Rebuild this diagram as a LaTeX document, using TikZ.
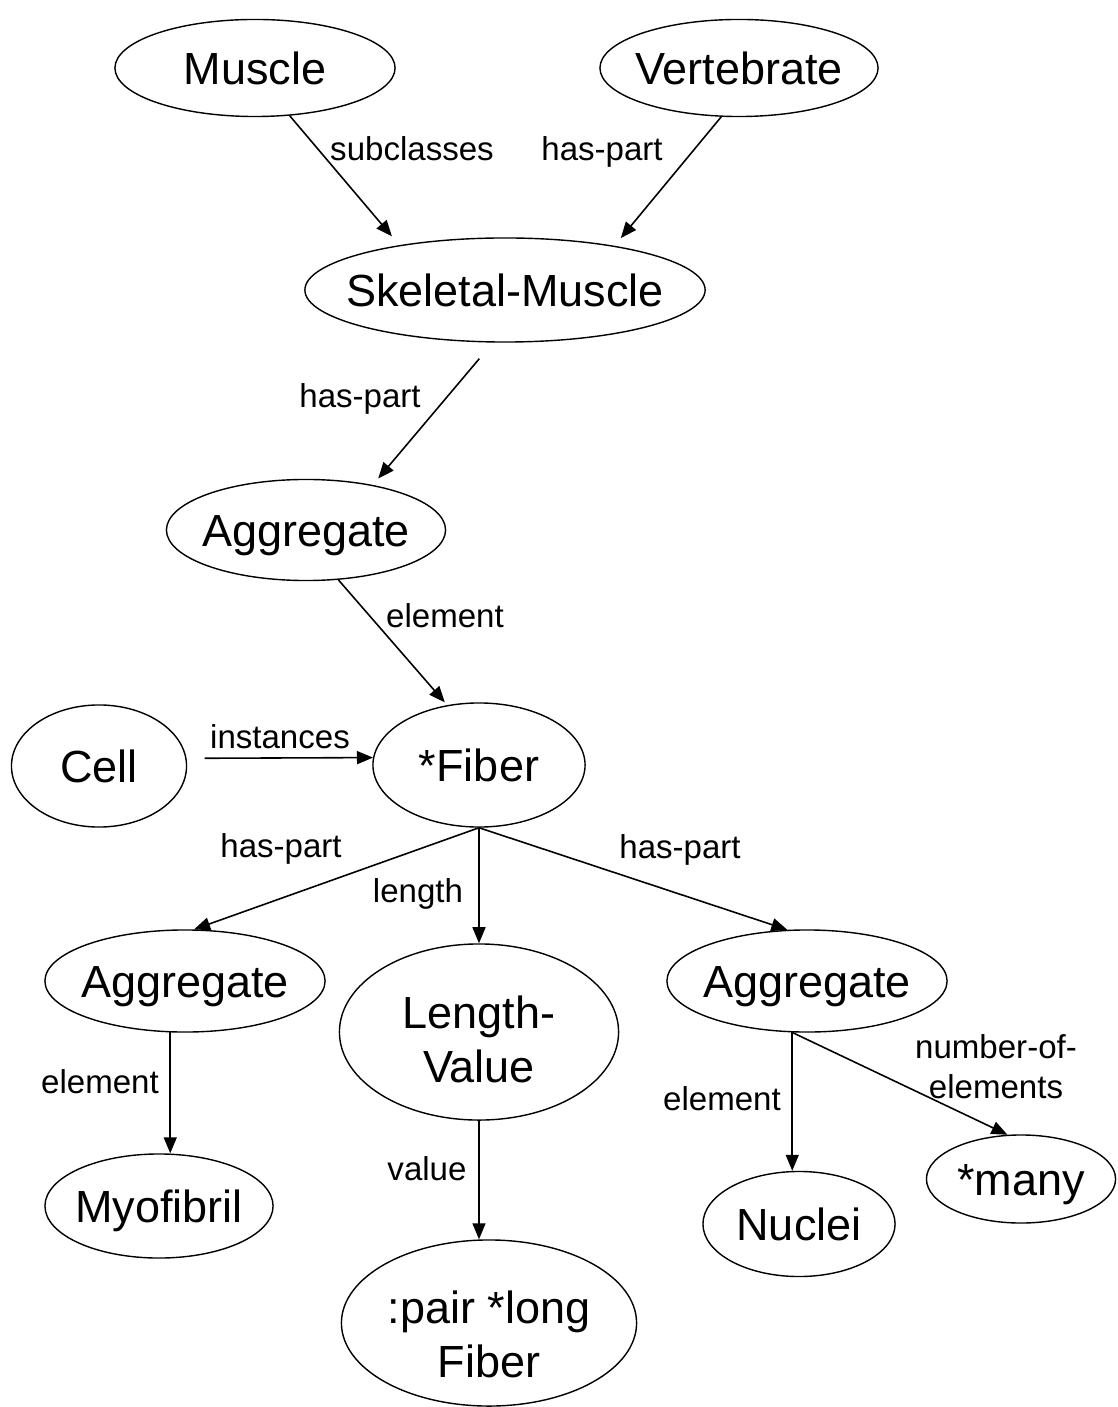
\documentclass[tikz,border=0pt]{standalone}
\usepackage{fontspec}
\setmainfont{Liberation Sans}
\usetikzlibrary{shapes.geometric,arrows.meta}

\tikzset{
  concept/.style={ellipse,draw,line width=0.4pt,inner xsep=-0.5cm,inner ysep=0pt,
    font=\fontsize{12.8}{15.4}\selectfont},
  oneline/.style={text height=9.2pt,text depth=0pt},
  rel/.style={font=\fontsize{9.4}{11.3}\selectfont,anchor=base,align=center},
  link/.style={line width=0.45pt,-{Triangle[length=0.16cm,width=0.13cm]}}
}

\begin{document}
\begin{tikzpicture}[x=0.01cm,y=-0.01cm]
  \useasboundingbox (0,0) rectangle (1117,1407);

  % Concepts
  \node[concept,oneline,minimum width=2.80cm,minimum height=0.97cm] (muscle) at (255,68) {Muscle};
  \node[concept,oneline,minimum width=2.78cm,minimum height=0.97cm] (vert) at (739,68) {Vertebrate};
  \node[concept,oneline,minimum width=4.00cm,minimum height=1.04cm] (skm) at (505,290) {Skeletal-Muscle};
  \node[concept,oneline,minimum width=2.79cm,minimum height=1.01cm] (agg1) at (306,530) {Aggregate};
  \node[concept,oneline,minimum width=1.75cm,minimum height=1.22cm] (cell) at (99,766) {Cell};
  \node[concept,oneline,minimum width=2.12cm,minimum height=1.24cm] (fiber) at (479,765) {*Fiber};
  \node[concept,oneline,minimum width=2.80cm,minimum height=1.02cm] (agg2) at (185,981) {Aggregate};
  \node[concept,align=center,text height=28.7pt,text depth=0pt,
    minimum width=2.79cm,minimum height=1.76cm] (lenval) at (479,1032) {Length-\\Value};
  \node[concept,oneline,minimum width=2.80cm,minimum height=1.02cm] (agg3) at (807,981) {Aggregate};
  \node[concept,oneline,minimum width=2.28cm,minimum height=1.04cm] (myo) at (159,1206) {Myofibril};
  \node[concept,align=center,text height=31pt,text depth=0pt,
    minimum width=2.95cm,minimum height=1.66cm] (pair) at (489,1323) {:pair *long\\Fiber};
  \node[concept,oneline,minimum width=1.92cm,minimum height=1.05cm] (nuclei) at (799,1224) {Nuclei};
  \node[concept,oneline,minimum width=1.89cm,minimum height=0.88cm] (many) at (1021,1179) {*many};

  % Relations
  \draw[link,shorten >=0.115cm] (muscle.-54.5) -- (skm.157.3);
  \draw[link,shorten >=0.1cm] (vert.250.9) -- (skm.22.5);
  \draw[link,shorten <=0.21cm,shorten >=0.084cm] (skm.257.7) -- (agg1.34.3);
  \draw[link,shorten >=0.036cm] (agg1.-57) -- (fiber.118.1);
  \draw[link,shorten <=0.18cm] (cell.5.3) -- (fiber.176.2);
  \draw[link] (fiber.south) -- (agg2.80);
  \draw[link] (fiber.south) -- (lenval.north);
  \draw[link] (fiber.south) -- (agg3.111.4);
  \draw[link] (agg2.-106.5) -- (agg2.-106.5 |- myo.north);
  \draw[link] (lenval.south) -- (lenval.south |- pair.north);
  \draw[link] (agg3.-106.5) -- (agg3.-106.5 |- nuclei.north);
  \draw[link] (agg3.-106.5) -- (many.107.7);

  % Relation labels
  \foreach \n/\x/\y/\txt in {sub/412/161/subclasses, hp1/602/161/has-part,
      hp2/360/408/has-part, el1/445/627/element, ins/280/748/instances,
      hp3/281/857/has-part, len/418/902/length, hp4/680/858/has-part,
      el2/100/1093/element, val/427/1180/value, el3/722/1110/element,
      noe/996/1098/{number-of-\\elements}}
    \node[rel] (lab-\n) at (\x,\y) {\txt};
\end{tikzpicture}
\end{document}
